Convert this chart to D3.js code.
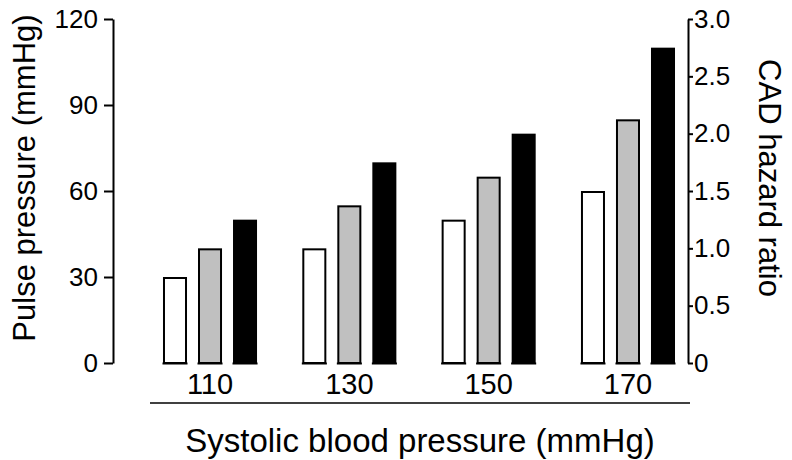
<!DOCTYPE html>
<html>
<head>
<meta charset="utf-8">
<script src="https://cdn.jsdelivr.net/npm/d3@7"></script>
<style>
  html, body { margin: 0; padding: 0; background: #fff; }
  svg { display: block; font-family: "Liberation Sans", Arial, sans-serif; }
</style>
</head>
<body>
<svg id="chart" width="792" height="460"></svg>
<script>
// Systolic blood pressure groups and the three bars drawn in each
const categories = ["110", "130", "150", "170"];
const seriesNames = ["low", "mid", "high"];
const seriesFill = ["#ffffff", "#c0c0c0", "#000000"];
// Pulse pressure (mmHg) per group, one array per series
const lowValues = [30, 40, 50, 60];
const midValues = [40, 55, 65, 85];
const highValues = [50, 70, 80, 110];
const leftTicks = [0, 30, 60, 90, 120];
const rightTicks = [0, 0.5, 1.0, 1.5, 2.0, 2.5, 3.0];

const series = [lowValues, midValues, highValues];
const svg = d3.select("#chart");

const yTop = 19, yBottom = 363;
const y = d3.scaleLinear().domain([0, 120]).range([yBottom, yTop]);
const yR = d3.scaleLinear().domain([0, 3]).range([yBottom, yTop]);

const x0 = d3.scaleBand().domain(categories)
  .range([140.35, 697.65]).paddingInner(0.325).paddingOuter(0.1625);
const x1 = d3.scaleBand().domain(seriesNames)
  .range([0, x0.bandwidth()]).paddingInner(0.314).paddingOuter(0);

// Bars
const groups = svg.append("g").selectAll("g")
  .data(categories).join("g")
  .attr("transform", d => `translate(${x0(d)},0)`);

groups.selectAll("rect")
  .data((c, ci) => seriesNames.map((s, si) => ({ s, si, v: series[si][ci] })))
  .join("rect")
  .attr("x", d => x1(d.s) + 1)
  .attr("y", d => y(d.v) + 1)
  .attr("width", x1.bandwidth() - 2)
  .attr("height", d => y(0) - y(d.v) - 1)
  .attr("fill", d => seriesFill[d.si])
  .attr("stroke", "#000")
  .attr("stroke-width", 2);

// Base segment under each bar
groups.selectAll("line.base")
  .data(seriesNames).join("line")
  .attr("class", "base")
  .attr("x1", d => x1(d) - 0.5)
  .attr("x2", d => x1(d) + x1.bandwidth() + 0.5)
  .attr("y1", y(0) + 0.5).attr("y2", y(0) + 0.5)
  .attr("stroke", "#000").attr("stroke-width", 2);

// Left axis
const leftAxis = svg.append("g")
  .attr("transform", "translate(113,0)")
  .call(d3.axisLeft(y).tickValues(leftTicks).tickSize(9).tickSizeOuter(0).tickPadding(6));
// Right axis
const rightAxis = svg.append("g")
  .attr("transform", "translate(688,0)")
  .call(d3.axisRight(yR).tickValues(rightTicks).tickSize(5).tickSizeOuter(0).tickPadding(1)
    .tickFormat(d => d === 0 ? "0" : d3.format(".1f")(d)));

[leftAxis, rightAxis].forEach(a => {
  a.selectAll("path.domain").attr("stroke", "#000").attr("stroke-width", 2);
  a.selectAll(".tick line").attr("stroke", "#000").attr("stroke-width", 2);
  a.selectAll(".tick text").attr("fill", "#000")
    .style("font-family", '"Liberation Sans", Arial, sans-serif')
    .style("font-size", "26px");
});

// Category labels below the bars
svg.append("g").selectAll("text")
  .data(categories).join("text")
  .attr("x", d => x0(d) + x0.bandwidth() / 2)
  .attr("y", 394)
  .attr("text-anchor", "middle")
  .style("font-size", "29px")
  .text(d => d);

// Rule under the category labels
svg.append("line")
  .attr("x1", 150).attr("x2", 690)
  .attr("y1", 403).attr("y2", 403)
  .attr("stroke", "#000").attr("stroke-width", 1.5);

// Axis titles
svg.append("text")
  .attr("x", 420).attr("y", 452)
  .attr("text-anchor", "middle")
  .style("font-size", "33px")
  .text("Systolic blood pressure (mmHg)");

svg.append("text")
  .attr("transform", "translate(35,178) rotate(-90)")
  .attr("text-anchor", "middle")
  .style("font-size", "31px")
  .text("Pulse pressure (mmHg)");

svg.append("text")
  .attr("transform", "translate(759,178) rotate(90)")
  .attr("text-anchor", "middle")
  .style("font-size", "31px")
  .text("CAD hazard ratio");
</script>
</body>
</html>
